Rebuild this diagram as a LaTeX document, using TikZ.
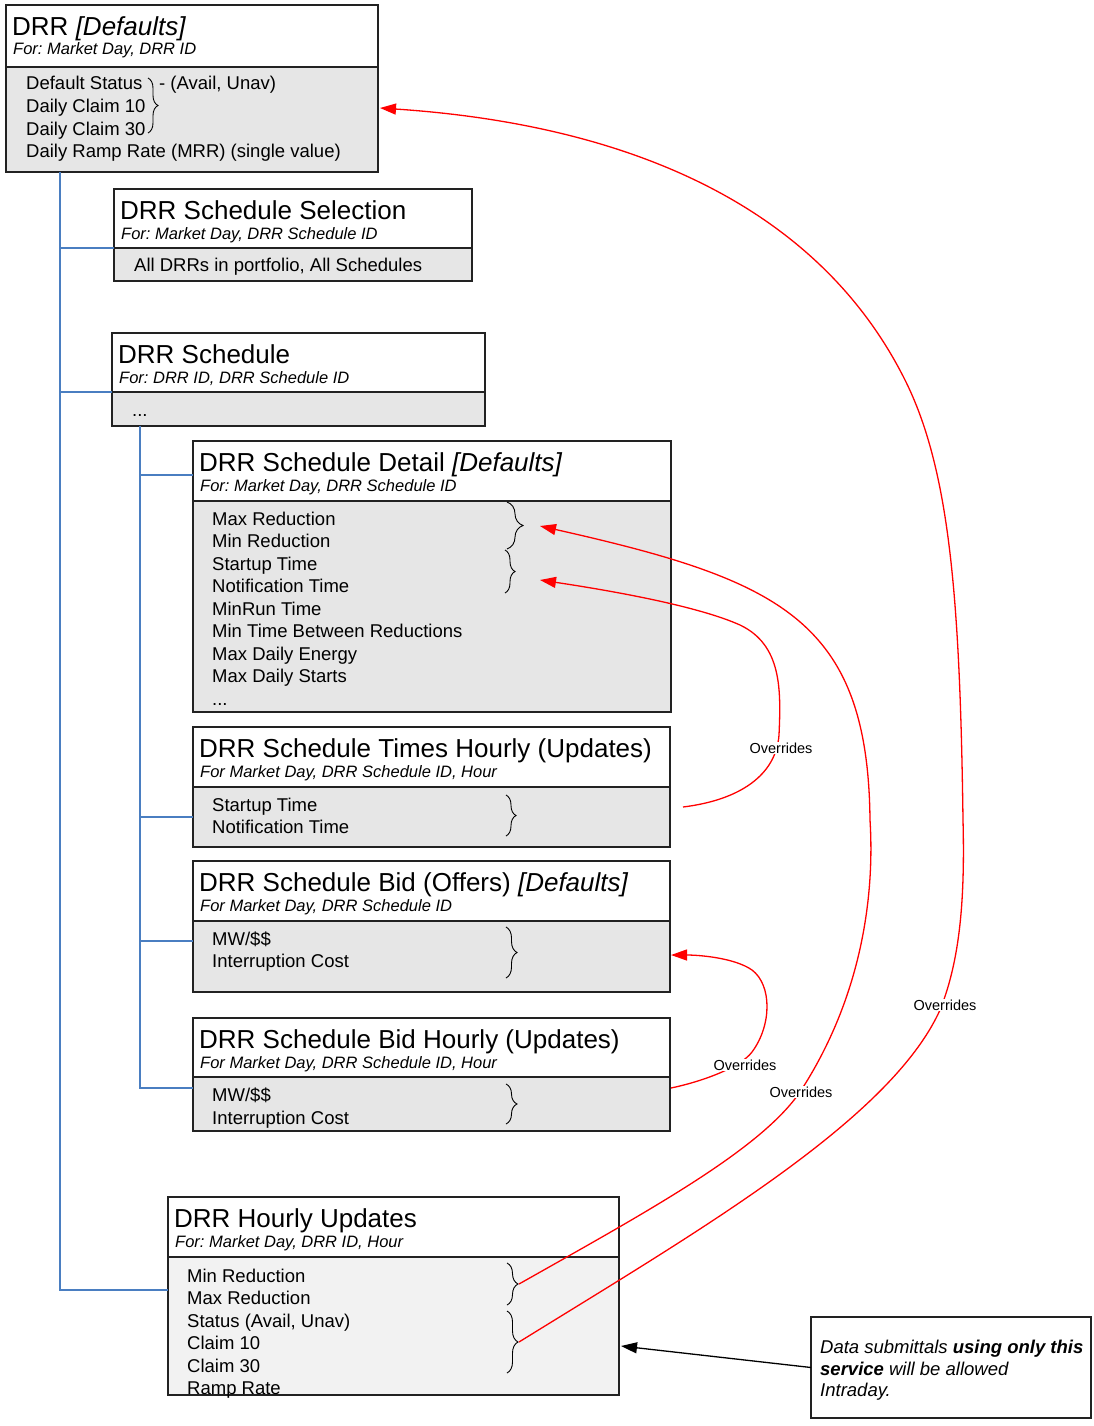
\documentclass[tikz,border=0pt]{standalone}
\usepackage{fontspec}
\setmainfont{Liberation Sans}
\usetikzlibrary{arrows.meta,decorations.pathreplacing,calc}
\definecolor{boxgray}{HTML}{E6E6E6}
\definecolor{lightgrayb}{HTML}{F2F2F2}
\definecolor{treeblue}{RGB}{74,126,193}
\definecolor{bordergray}{HTML}{222222}
\newcommand{\drrbox}[9]{%
  \node[hdr, minimum width=#4pt, minimum height=#5pt] (#1h) at (#2,#3) {};
  \node[bdy, fill=#9, minimum width=#4pt, minimum height=#6pt] (#1b) at (#1h.south west) {};
  \node[ttl] (#1t) at ($(#1h.north west)+(6,30.5)$) {#7};
  \node[subttl] (#1s) at ($(#1h.north west)+(7,50)$) {#8};
}
\frenchspacing
\begin{document}
\begin{tikzpicture}[x=1pt,y=-1pt,
  hdr/.style={draw=bordergray, line width=1.4pt, fill=white, inner sep=0, outer sep=0, anchor=north west},
  bdy/.style={draw=bordergray, line width=1.4pt, inner sep=0, outer sep=0, anchor=north west},
  ttl/.style={font=\fontsize{26}{30}\selectfont, inner sep=0, anchor=base west},
  subttl/.style={font=\fontsize{16.5}{19}\selectfont\itshape, inner sep=0, anchor=base west},
  txt/.style={font=\fontsize{18.5}{22}\selectfont, inner sep=0, anchor=base west},
  notetxt/.style={font=\fontsize{18.5}{22}\selectfont\itshape, inner sep=0, anchor=base west},
  ovr/.style={font=\fontsize{14.5}{17}\selectfont, fill=white, inner sep=1pt},
  tree/.style={draw=treeblue, line width=2pt},
  brc/.style={decorate, decoration={brace, amplitude=#1}, line width=0.9pt},
  brc/.default=10pt,
  ovarrow/.style={draw=red, line width=1.3pt, -{Triangle[length=16pt,width=11pt]}},
  blkarrow/.style={draw=black, line width=1.3pt, -{Triangle[length=16pt,width=11pt]}}
]
\useasboundingbox (0,0) rectangle (1094,1426);

% boxes
\drrbox{d1}{6}{5}{372}{62}{105}{DRR \textit{[Defaults]}}{For: Market Day, DRR ID}{boxgray}
\drrbox{sel}{114}{189}{358}{59}{33}{DRR Schedule Selection}{For: Market Day, DRR Schedule ID}{boxgray}
\drrbox{sch}{112}{333}{373}{59}{34}{DRR Schedule}{For: DRR ID, DRR Schedule ID}{boxgray}
\drrbox{det}{193}{441}{478}{60}{211}{DRR Schedule Detail \textit{[Defaults]}}{For: Market Day, DRR Schedule ID}{boxgray}
\drrbox{tim}{193}{727}{477}{60}{60}{DRR Schedule Times Hourly (Updates)}{For Market Day, DRR Schedule ID, Hour}{boxgray}
\drrbox{bo}{193}{861}{477}{60}{71}{DRR Schedule Bid (Offers) \textit{[Defaults]}}{For Market Day, DRR Schedule ID}{boxgray}
\drrbox{bh}{193}{1018}{477}{59}{54}{DRR Schedule Bid Hourly (Updates)}{For Market Day, DRR Schedule ID, Hour}{boxgray}
\drrbox{hu}{168}{1197}{451}{60}{138}{DRR Hourly Updates}{For: Market Day, DRR ID, Hour}{lightgrayb}

% body texts
\node[txt] (d1l1) at (26,90) {Default Status};
\node[txt] (d1l2) at (26,112.6) {Daily Claim 10};
\node[txt] (d1l3) at (26,135.2) {Daily Claim 30};
\node[txt] (d1l4) at (26,157.8) {Daily Ramp Rate (MRR) (single value)};
\node[txt] (d1av) at (159,90) {- (Avail, Unav)};
\node[txt] (sell1) at (134,271) {All DRRs in portfolio, All Schedules};
\node[txt] (schl1) at (132,416) {...};
\node[txt] (detl1) at (212,525.3) {Max Reduction};
\node[txt] (detl2) at (212,547.8) {Min Reduction};
\node[txt] (detl3) at (212,570.3) {Startup Time};
\node[txt] (detl4) at (212,592.8) {Notification Time};
\node[txt] (detl5) at (212,615.3) {MinRun Time};
\node[txt] (detl6) at (212,637.8) {Min Time Between Reductions};
\node[txt] (detl7) at (212,660.3) {Max Daily Energy};
\node[txt] (detl8) at (212,682.8) {Max Daily Starts};
\node[txt] (detl9) at (212,705.3) {...};
\node[txt] (timl1) at (212,811) {Startup Time};
\node[txt] (timl2) at (212,833.5) {Notification Time};
\node[txt] (bol1) at (212,945.7) {MW/\$\$};
\node[txt] (bol2) at (212,967.5) {Interruption Cost};
\node[txt] (bhl1) at (212,1101) {MW/\$\$};
\node[txt] (bhl2) at (212,1124) {Interruption Cost};
\node[txt] (hul1) at (187,1282) {Min Reduction};
\node[txt] (hul2) at (187,1304.5) {Max Reduction};
\node[txt] (hul3) at (187,1327) {Status (Avail, Unav)};
\node[txt] (hul4) at (187,1349.5) {Claim 10};
\node[txt] (hul5) at (187,1372) {Claim 30};
\node[txt] (hul6) at (187,1394.5) {Ramp Rate};

% braces
\draw[brc=10pt] (148,78) -- (148,133);
\draw[brc=16pt] (507,502) -- (507,549);
\draw[brc=10pt] (505,550) -- (505,593);
\draw[brc=10pt] (506,795) -- (506,836);
\draw[brc=11pt] (506,927) -- (506,978);
\draw[brc=11pt] (506,1084) -- (506,1124);
\draw[brc=11pt] (507,1263) -- (507,1305);
\draw[brc=11pt] (507,1311) -- (507,1373);

% tree connectors
\coordinate (t1) at ($(d1b.south west)+(54,0)$);
\draw[tree] (t1) |- (selb.north west);
\draw[tree] (t1) |- (schb.north west);
\draw[tree] (t1) |- ($(hub.north west)+(0,33)$);
\coordinate (t2) at ($(schb.south west)+(28,0)$);
\draw[tree] (t2) |- ($(deth.north west)+(0,34)$);
\draw[tree] (t2) |- ($(timb.north west)+(0,30)$);
\draw[tree] (t2) |- ($(bob.north west)+(0,20)$);
\draw[tree] (t2) |- ($(bhb.north west)+(0,11)$);

% connector end points
\coordinate (hubr1) at (519,1284);
\coordinate (hubr2) at (519,1342);
\coordinate (d1in) at (380,108);
\coordinate (detin1) at (540,526);
\coordinate (detin2) at (540,580);
\coordinate (timout) at (683,807);
\coordinate (bhout) at (671,1088);
\coordinate (boin) at (671,955);
\coordinate (huin) at (621,1346);

% override arrows
\draw[ovarrow] (hubr2) .. controls (700,1230) and (890,1120) .. (940,1010)
  .. controls (960,960) and (965,900) .. (963,820)
  .. controls (960,600) and (950,470) .. (905,380)
  .. controls (800,170) and (560,120) .. (d1in);
\node[ovr] (ov1) at (945,1005) {Overrides};

\draw[ovarrow] (hubr1) .. controls (650,1210) and (760,1150) .. (800,1092)
  .. controls (860,1000) and (875,900) .. (870,820)
  .. controls (868,620) and (780,580) .. (detin1);
\node[ovr] (ov2) at (801,1092) {Overrides};

\draw[ovarrow] (timout) .. controls (740,800) and (776,775) .. (779,735)
  .. controls (781,690) and (782,645) .. (740,625)
  .. controls (700,607) and (620,592) .. (detin2);
\node[ovr] (ov3) at (781,748) {Overrides};

\draw[ovarrow] (bhout) .. controls (700,1082) and (740,1068) .. (752,1052)
  .. controls (772,1025) and (772,985) .. (752,970)
  .. controls (735,958) and (700,955) .. (boin);
\node[ovr] (ov4) at (745,1065) {Overrides};

% note
\node[draw=bordergray, line width=1.3pt, fill=white, inner sep=0, outer sep=0, anchor=north west,
  minimum width=280pt, minimum height=101pt] (note) at (811,1317) {};
\node[notetxt] (n1) at (820,1353) {Data submittals \textbf{using only this}};
\node[notetxt] (n2) at (820,1375) {\textbf{service} will be allowed};
\node[notetxt] (n3) at (820,1396) {Intraday.};
\draw[blkarrow] (note.west) -- (huin);
\end{tikzpicture}
\end{document}
